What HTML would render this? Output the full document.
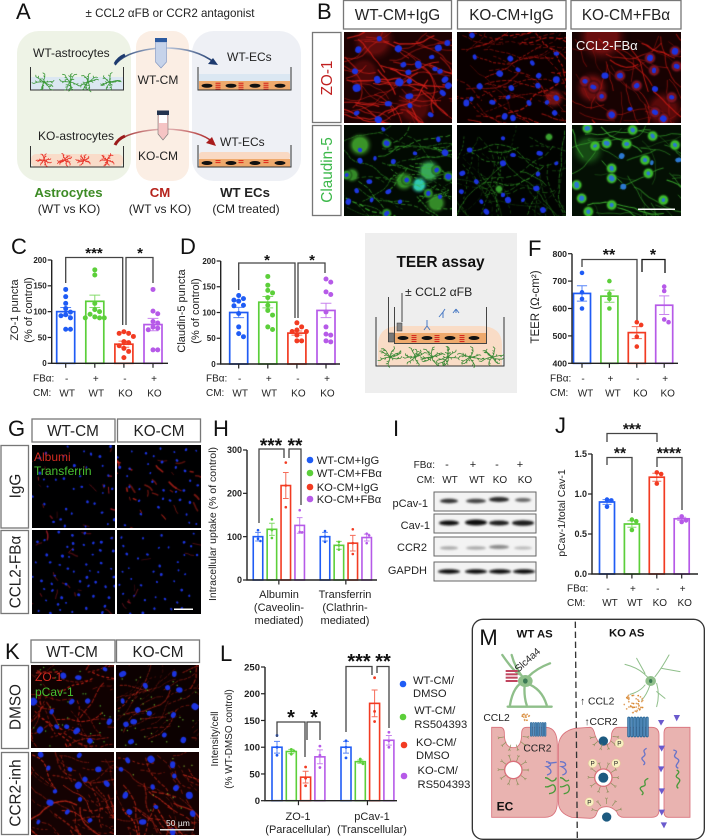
<!DOCTYPE html>
<html lang="en">
<head>
<meta charset="utf-8">
<title>Multi-panel figure</title>
<style>
html,body{margin:0;padding:0;background:#fff;}
#fig{position:relative;width:705px;height:840px;overflow:hidden;background:#fff;font-family:"Liberation Sans",Arial,sans-serif;}
#fig canvas{position:absolute;display:block;}
#ov{position:absolute;left:0;top:0;}
#ov text{font-family:"Liberation Sans",Arial,sans-serif;fill:#222;}
.hdr{fill:#fff;stroke:#777;stroke-width:1.3;}
.let{font-size:22px;fill:#111 !important;}
.h15{font-size:15.3px;text-anchor:middle;}
.a12{font-size:12px;}
.m12{font-size:12px;text-anchor:middle;}
.bold13{font-size:13.2px;font-weight:bold;text-anchor:middle;}
.lab10{font-size:10px;}
.t11{font-size:11px;text-anchor:middle;}
.leg{font-size:11.2px;}
</style>
</head>
<body>
<div id="fig">

<canvas id="b1" width="108" height="91" style="left:344px;top:32px"></canvas>
<canvas id="b2" width="109" height="91" style="left:457px;top:32px"></canvas>
<canvas id="b3" width="109" height="91" style="left:572px;top:32px"></canvas>
<canvas id="b4" width="108" height="91" style="left:344px;top:125px"></canvas>
<canvas id="b5" width="109" height="91" style="left:457px;top:125px"></canvas>
<canvas id="b6" width="109" height="91" style="left:572px;top:125px"></canvas>
<canvas id="g1" width="83" height="83" style="left:32px;top:445px"></canvas>
<canvas id="g2" width="84" height="83" style="left:117px;top:445px"></canvas>
<canvas id="g3" width="83" height="84" style="left:32px;top:530px"></canvas>
<canvas id="g4" width="84" height="84" style="left:117px;top:530px"></canvas>
<canvas id="k1" width="83" height="83" style="left:31px;top:665px"></canvas>
<canvas id="k2" width="83" height="83" style="left:116px;top:665px"></canvas>
<canvas id="k3" width="83" height="83" style="left:31px;top:752px"></canvas>
<canvas id="k4" width="83" height="83" style="left:116px;top:752px"></canvas>

<svg id="ov" width="705" height="840" viewBox="0 0 705 840" xmlns="http://www.w3.org/2000/svg">
<defs>
<filter id="bl" x="-20%" y="-100%" width="140%" height="300%"><feGaussianBlur stdDeviation="1.1"/></filter>
<linearGradient id="arrB" x1="0" x2="1"><stop offset="0" stop-color="#1d3a6e"/><stop offset=".5" stop-color="#c8d2e4"/><stop offset="1" stop-color="#1d3a6e"/></linearGradient>
<linearGradient id="arrR" x1="0" x2="1"><stop offset="0" stop-color="#9a1a1a"/><stop offset=".5" stop-color="#e8c4c4"/><stop offset="1" stop-color="#a81c1c"/></linearGradient>
</defs>

<!-- Panel letters -->
<text class="let" x="16" y="19">A</text>
<text class="let" x="317" y="19">B</text>
<text class="let" x="11" y="254">C</text>
<text class="let" x="180" y="254">D</text>
<text class="let" x="371" y="255">E</text>
<text class="let" x="528" y="256">F</text>
<text class="let" x="8" y="436">G</text>
<text class="let" x="213" y="436">H</text>
<text class="let" x="393" y="436">I</text>
<text class="let" x="555" y="433">J</text>
<text class="let" x="5" y="659">K</text>
<text class="let" x="220" y="661">L</text>

<!-- Panel A -->
<g id="panelA">
<text class="m12" x="170" y="17" style="font-size:11.6px">± CCL2 αFB or CCR2 antagonist</text>
<rect x="17" y="31" width="114" height="150" rx="22" fill="#eef3e6"/>
<rect x="136" y="31" width="53" height="150" rx="16" fill="#fbeee4"/>
<rect x="192" y="31" width="109" height="150" rx="22" fill="#eef0f5"/>
<rect x="31" y="77" width="92" height="13" fill="#dbe7f2"/>
<rect x="31" y="154" width="92" height="13" rx="5" fill="#f9dcc9"/>
<rect x="199" y="74" width="91" height="8" fill="#dbe7f2"/>
<rect x="199" y="81" width="91" height="9" fill="#eea96c"/>
<rect x="199" y="152" width="91" height="8" rx="3" fill="#f9d9c3"/>
<rect x="199" y="159" width="91" height="8" fill="#eea96c"/>
<g id="aNuclei"></g>
<path d="M30.5 67V90H123.5V67" fill="none" stroke="#333" stroke-width="1"/>
<path d="M30.5 146V167H123.5V146" fill="none" stroke="#333" stroke-width="1"/>
<path d="M198 67V90H291V67" fill="none" stroke="#333" stroke-width="1"/>
<path d="M198 145V167H291V145" fill="none" stroke="#333" stroke-width="1"/>
<path d="M115 65Q125 51 160 48Q195 47 215 63" fill="none" stroke="url(#arrB)" stroke-width="1.6"/>
<path d="M115 64Q118 58 125 55" fill="none" stroke="#1d3a6e" stroke-width="3"/>
<path d="M218 65L208 64L213 58Z" fill="#1d3a6e"/>
<path d="M115 144Q125 131 165 129Q200 130 214 143" fill="none" stroke="url(#arrR)" stroke-width="1.6"/>
<path d="M115 145Q118 139 125 136" fill="none" stroke="#9a1a1a" stroke-width="3"/>
<path d="M216 146L206 143L212 137Z" fill="#a81c1c"/>
<path d="M155.500 42H166.500V62L161 68L155.500 62Z" fill="#c6d3ea" stroke="#7d93c0" stroke-width=".6"/>
<rect x="155" y="38" width="12" height="4" fill="#2c5aa0"/>
<path d="M158 115H168V134L163 140L158 134Z" fill="#f5c4c4" stroke="#777" stroke-width=".6"/>
<rect x="157" y="110.500" width="12" height="4.500" fill="#23344f"/>
<rect x="159" y="115" width="8" height="8" fill="#fff"/>
<text class="a12" x="33" y="57">WT-astrocytes</text>
<text class="a12" x="38" y="140">KO-astrocytes</text>
<text class="a12" x="227" y="61">WT-ECs</text>
<text class="a12" x="220" y="146">WT-ECs</text>
<text class="m12" x="158" y="84">WT-CM</text>
<text class="m12" x="158" y="160">KO-CM</text>
<text class="bold13" x="68.500" y="197" style="fill:#3d8b25">Astrocytes</text>
<text class="m12" x="69" y="213">(WT vs KO)</text>
<text class="bold13" x="160" y="197" style="fill:#b5231c">CM</text>
<text class="m12" x="160" y="213">(WT vs KO)</text>
<text class="bold13" x="245" y="197">WT ECs</text>
<text class="m12" x="246" y="213">(CM treated)</text>
</g>

<!-- Panel B labels -->
<rect class="hdr" x="343.500" y="0.500" width="108" height="28.500"/>
<rect class="hdr" x="457.500" y="0.500" width="108.500" height="28.500"/>
<rect class="hdr" x="571" y="0.500" width="110" height="28.500"/>
<text class="h15" x="397.500" y="20">WT-CM+IgG</text>
<text class="h15" x="511.500" y="20">KO-CM+IgG</text>
<text class="h15" x="626" y="20">KO-CM+FBα</text>
<rect class="hdr" x="312.500" y="32.500" width="28.500" height="90"/>
<rect class="hdr" x="312.500" y="125.500" width="28.500" height="90"/>
<text class="h15" transform="translate(332,78) rotate(-90)" style="fill:#c02020">ZO-1</text>
<text class="h15" transform="translate(332,170) rotate(-90)" style="fill:#3cb84a">Claudin-5</text>
<text x="576" y="50" style="font-size:13px;fill:#f4f4f4">CCL2-FBα</text>
<rect x="638" y="208.500" width="37" height="1.500" fill="#fff"/>

<!-- Panel C/D labels -->
<text class="t11" transform="translate(18,310) rotate(-90)">ZO-1 puncta</text>
<text class="t11" transform="translate(32,310) rotate(-90)">(% of control)</text>
<text class="t11" transform="translate(185,311) rotate(-90)">Claudin-5 puncta</text>
<text class="t11" transform="translate(199,311) rotate(-90)">(% of control)</text>
<text class="lab10" x="33" y="381.500">FBα:</text>
<text class="lab10" x="33" y="396">CM:</text>
<text class="lab10" x="206" y="381.500">FBα:</text>
<text class="lab10" x="206" y="396">CM:</text>

<!-- Panel E -->
<g id="panelE">
<rect x="365" y="233" width="152" height="160" fill="#eeeeee"/>
<text x="440.500" y="267" style="font-size:15.400px;font-weight:bold;text-anchor:middle;fill:#111">TEER assay</text>
<text x="405" y="296" style="font-size:12.200px">± CCL2 αFB</text>
<path d="M378 366V345Q378 326 400 326H480Q502 326 502 345V366Z" fill="#f9dcc6"/>
<rect x="395" y="333" width="92" height="10" fill="#eea96c"/>
<g id="eCells"></g>
<path d="M376 317V366H504V317" fill="none" stroke="#333" stroke-width="1"/>
<path d="M388.500 297V342M394.500 307V343.500H486.500V307M402 293V322" fill="none" stroke="#444" stroke-width="1"/>
<rect x="388.500" y="333" width="5" height="9" fill="#777" stroke="#333" stroke-width=".5"/>
<rect x="397" y="323" width="5" height="8" fill="#888" stroke="#333" stroke-width=".5"/>
<path d="M427 320V326M427 326L424 330M427 326L430 330M443 312V318M443 312L439 317M443 312L445 309M456 309V313M456 309L453 313M456 309L459 313" fill="none" stroke="#4a7ac4" stroke-width="1"/>
</g>

<!-- Panel F labels -->
<text class="t11" transform="translate(539,307) rotate(-90)" style="font-size:11.500px">TEER (Ω-cm²)</text>
<text class="lab10" x="550" y="381.500">FBα:</text>
<text class="lab10" x="550" y="396">CM:</text>

<!-- Panel G labels -->
<rect class="hdr" x="32" y="419" width="83" height="23"/>
<rect class="hdr" x="117.500" y="419" width="83" height="23"/>
<text class="h15" x="73" y="436">WT-CM</text>
<text class="h15" x="159" y="436">KO-CM</text>
<rect class="hdr" x="1" y="445.500" width="27.500" height="82.500"/>
<rect class="hdr" x="1" y="530.500" width="27.500" height="83"/>
<text class="h15" transform="translate(20.500,486) rotate(-90)">IgG</text>
<text class="h15" transform="translate(20.500,572) rotate(-90)">CCL2-FBα</text>
<text x="34" y="461" style="font-size:12px;fill:#d02a20">Albumi</text>
<text x="34" y="475" style="font-size:12px;fill:#48c030">Transferrin</text>
<rect x="174" y="608.500" width="19" height="1.500" fill="#fff"/>

<!-- Panel H labels -->
<text class="t11" transform="translate(216,524) rotate(-90)" style="font-size:10.500px">Intracellular uptake (% of control)</text>
<text class="t11" x="279" y="598">Albumin</text>
<text class="t11" x="279" y="611">(Caveolin-</text>
<text class="t11" x="279" y="624">mediated)</text>
<text class="t11" x="345" y="598">Transferrin</text>
<text class="t11" x="345" y="611">(Clathrin-</text>
<text class="t11" x="345" y="624">mediated)</text>
<g>
<circle cx="310" cy="460" r="3.300" fill="#1f5cf5"/>
<circle cx="310" cy="473" r="3.300" fill="#5ccf3a"/>
<circle cx="310" cy="487" r="3.300" fill="#f23b22"/>
<circle cx="310" cy="499" r="3.300" fill="#b65ae8"/>
<text class="leg" x="316.700" y="464">WT-CM+IgG</text>
<text class="leg" x="316.700" y="477">WT-CM+FBα</text>
<text class="leg" x="316.700" y="491">KO-CM+IgG</text>
<text class="leg" x="316.700" y="503">KO-CM+FBα</text>
</g>

<!-- Panel I -->
<g id="panelI">
<text class="lab10" x="435" y="468" text-anchor="end">FBα:</text>
<text class="lab10" x="435" y="483" text-anchor="end">CM:</text>
<text class="t11" x="447" y="468">-</text>
<text class="t11" x="473" y="468">+</text>
<text class="t11" x="497" y="468">-</text>
<text class="t11" x="520" y="468">+</text>
<text class="lab10" x="450" y="483" text-anchor="middle">WT</text>
<text class="lab10" x="477" y="483" text-anchor="middle">WT</text>
<text class="lab10" x="500" y="483" text-anchor="middle">KO</text>
<text class="lab10" x="525" y="483" text-anchor="middle">KO</text>
<text x="428" y="507" text-anchor="end" style="font-size:11px">pCav-1</text>
<text x="430" y="529" text-anchor="end" style="font-size:11px">Cav-1</text>
<text x="427" y="551" text-anchor="end" style="font-size:11px">CCR2</text>
<text x="427" y="574" text-anchor="end" style="font-size:11px">GAPDH</text>
<rect x="434" y="492" width="102" height="19" fill="#f3f3f3" stroke="#666"/>
<rect x="434" y="514" width="102" height="19" fill="#f3f3f3" stroke="#666"/>
<rect x="434" y="537" width="102" height="19" fill="#f3f3f3" stroke="#666"/>
<rect x="434" y="562" width="102" height="19" fill="#f3f3f3" stroke="#666"/>
<g filter="url(#bl)">
<ellipse cx="449" cy="501" rx="9" ry="2.200" fill="#333"/>
<ellipse cx="476" cy="501" rx="10" ry="2.200" fill="#444"/>
<ellipse cx="499" cy="499.500" rx="10" ry="2.500" fill="#2a2a2a"/>
<ellipse cx="523" cy="500" rx="8" ry="2" fill="#666"/>
<ellipse cx="449" cy="523" rx="10" ry="2.500" fill="#111"/>
<ellipse cx="476" cy="522.500" rx="11" ry="3" fill="#111"/>
<ellipse cx="499" cy="523" rx="10" ry="2.500" fill="#1a1a1a"/>
<ellipse cx="523" cy="523" rx="11" ry="2.800" fill="#1a1a1a"/>
<ellipse cx="449" cy="548" rx="9" ry="1.800" fill="#aaa"/>
<ellipse cx="476" cy="548" rx="10" ry="1.800" fill="#aaa"/>
<ellipse cx="499" cy="547" rx="10" ry="2" fill="#888"/>
<ellipse cx="523" cy="548" rx="9" ry="1.600" fill="#bbb"/>
<ellipse cx="449" cy="571.500" rx="11" ry="2.200" fill="#0a0a0a"/>
<ellipse cx="476" cy="571.500" rx="11" ry="2.200" fill="#0a0a0a"/>
<ellipse cx="500" cy="571.500" rx="11" ry="2.200" fill="#0a0a0a"/>
<ellipse cx="524" cy="571.500" rx="11" ry="2.200" fill="#0a0a0a"/>
</g>
</g>

<!-- Panel J labels -->
<text class="t11" transform="translate(565,513) rotate(-90)" style="font-size:10.500px">pCav-1/total Cav-1</text>
<text class="lab10" x="567" y="591.500">FBα:</text>
<text class="lab10" x="567" y="606">CM:</text>

<!-- Panel K labels -->
<rect class="hdr" x="31" y="640" width="84" height="22.500"/>
<rect class="hdr" x="116.500" y="640" width="83" height="22.500"/>
<text class="h15" x="72" y="657">WT-CM</text>
<text class="h15" x="158" y="657">KO-CM</text>
<rect class="hdr" x="1.500" y="665.500" width="27" height="83"/>
<rect class="hdr" x="1.500" y="752.500" width="27" height="82"/>
<text class="h15" transform="translate(20.500,707) rotate(-90)">DMSO</text>
<text class="h15" transform="translate(20.500,793) rotate(-90)">CCR2-inh</text>
<text x="35" y="681" style="font-size:12px;fill:#d02a20">ZO-1</text>
<text x="35" y="696" style="font-size:12px;fill:#48c030">pCav-1</text>
<text x="166" y="826" style="font-size:8.500px;fill:#eee">50 µm</text>
<rect x="160" y="829" width="34" height="1.500" fill="#ddd"/>

<!-- Panel L labels -->
<text class="t11" transform="translate(218,739) rotate(-90)" style="font-size:10px">Intensity/cell</text>
<text class="t11" transform="translate(232,739) rotate(-90)" style="font-size:10px">(% WT-DMSO control)</text>
<text class="t11" x="298" y="820">ZO-1</text>
<text class="t11" x="298" y="833">(Paracellular)</text>
<text class="t11" x="372" y="820">pCav-1</text>
<text class="t11" x="372" y="833">(Transcellular)</text>
<g>
<circle cx="403" cy="684" r="3.300" fill="#1f5cf5"/>
<circle cx="403" cy="717" r="3.300" fill="#5ccf3a"/>
<circle cx="404" cy="745" r="3.300" fill="#f23b22"/>
<circle cx="404" cy="776" r="3.300" fill="#b65ae8"/>
<text class="leg" x="413" y="684">WT-CM/</text>
<text class="leg" x="413" y="697">DMSO</text>
<text class="leg" x="414.300" y="714">WT-CM/</text>
<text class="leg" x="414.300" y="728">RS504393</text>
<text class="leg" x="416" y="746">KO-CM/</text>
<text class="leg" x="416" y="759">DMSO</text>
<text class="leg" x="417.500" y="774">KO-CM/</text>
<text class="leg" x="417.500" y="788">RS504393</text>
</g>

<!-- Panel M, drawn in 3x coordinates -->
<g id="panelM" transform="translate(465,605) scale(0.33333)">
<rect x="22" y="43" width="696" height="660" rx="32" fill="#fff" stroke="#333" stroke-width="4"/>
<text x="43" y="120" style="font-size:66px;fill:#111">M</text>
<text x="155" y="98" style="font-size:34px;font-weight:bold;fill:#111">WT AS</text>
<text x="432" y="94" style="font-size:34px;font-weight:bold;fill:#111">KO AS</text>
<path d="M80 367L105 367Q118 367 118 385Q118 428 145 428Q170 428 170 385Q170 367 185 367L245 367Q277 370 277 420L277 590Q277 637 240 637L80 637Z" fill="#e9b3b0" stroke="#d9707a" stroke-width="2.500"/>
<path d="M330 370L375 367Q385 367 390 390Q400 420 420 420Q440 420 440 385Q445 367 460 367L560 367Q582 367 582 390L582 615Q582 637 560 637L475 637Q460 637 455 620Q440 605 425 605Q400 605 395 625Q390 640 375 640L320 637Q280 625 280 590L280 420Q285 380 330 370Z" fill="#e9b3b0" stroke="#d9707a" stroke-width="2.500"/>
<path d="M675 367L610 367Q597 367 597 385L597 620Q597 637 610 637L675 637Z" fill="#e9b3b0" stroke="#d9707a" stroke-width="2.500"/>
<circle cx="145" cy="495" r="26" fill="#fff" stroke="#d9707a" stroke-width="4"/>
<circle cx="415" cy="518" r="26" fill="#fff" stroke="#d9707a" stroke-width="4"/>
<circle cx="415" cy="518" r="15" fill="#1c5a80"/>
<circle cx="415" cy="408" r="14" fill="#1c5a80"/>
<circle cx="425" cy="636" r="14" fill="#1c5a80"/>
<g id="mSpikes"></g>
<g id="mRec"></g>
<path d="M243 470C260 470 262 485 245 485C262 495 262 505 246 510M250 475L275 472M285 470C305 470 308 485 290 485C308 495 308 505 292 510" fill="none" stroke="#6a75c8" stroke-width="4"/>
<path d="M240 518C256 518 254 535 270 525Q275 520 272 518M240 545C256 550 262 530 270 545C275 560 262 565 252 566M285 518C300 518 298 535 312 525M285 545C300 550 306 530 312 545C316 560 306 565 296 566" fill="none" stroke="#4a9a3a" stroke-width="4"/>
<path d="M545 430C525 440 550 445 535 455C520 465 550 470 535 480" fill="none" stroke="#6a75c8" stroke-width="4"/>
<path d="M550 520C525 530 555 540 530 545C515 555 545 560 530 570" fill="none" stroke="#4a9a3a" stroke-width="4"/>
<path d="M625 435C650 440 615 450 635 460C655 470 620 480 640 490" fill="none" stroke="#6a75c8" stroke-width="4"/>
<path d="M635 495C655 505 620 510 640 520C655 530 625 540 640 550" fill="none" stroke="#4a9a3a" stroke-width="4"/>
<g fill="#6a5acd">
<path d="M579 345L598 345L588 362Z"/>
<path d="M626 330L645 330L635 349Z"/>
<path d="M580 422L600 422L590 440Z"/>
<path d="M579 484L598 484L588 502Z"/>
<path d="M581 550L600 550L590 568Z"/>
<path d="M581 614L600 614L590 632Z"/>
<path d="M587 652L606 652L597 670Z"/>
</g>
<g fill="none" stroke="#8fbf8a" stroke-width="7" stroke-linecap="round">
<path d="M180 228Q145 240 135 300M180 228Q175 270 185 300M185 235Q230 250 245 300M180 225Q150 190 140 150M190 215Q215 190 255 175M128 305H260M165 208Q150 205 112 150"/>
</g>
<ellipse cx="181" cy="228" rx="22" ry="18" fill="#8fbf8a"/>
<ellipse cx="181" cy="228" rx="7" ry="8" fill="#3c7a55"/>
<g fill="#c0455f">
<rect x="122" y="195" width="36" height="6"/>
<rect x="122" y="205" width="36" height="6"/>
<rect x="122" y="215" width="36" height="6"/>
<rect x="122" y="225" width="36" height="6"/>
</g>
<g fill="none" stroke="#8fbf8a" stroke-width="3" stroke-linecap="round">
<path d="M557 228Q530 190 480 178M540 205L515 160M570 215Q590 190 612 150M590 190L645 200M575 235Q585 270 575 305M575 260L600 280M540 240Q525 260 495 268M555 240Q545 270 530 285"/>
</g>
<ellipse cx="557" cy="228" rx="16" ry="15" fill="#8fbf8a"/>
<ellipse cx="557" cy="228" rx="5" ry="6" fill="#3c7a55"/>
<g id="mDots"></g>
<g>
<circle cx="463" cy="415" r="13" fill="#f8efc0" stroke="#d8c888"/>
<circle cx="383" cy="475" r="13" fill="#f8efc0" stroke="#d8c888"/>
<circle cx="453" cy="475" r="13" fill="#f8efc0" stroke="#d8c888"/>
<circle cx="373" cy="591" r="13" fill="#f8efc0" stroke="#d8c888"/>
<text x="463" y="422" text-anchor="middle" style="font-size:19px">P</text>
<text x="383" y="482" text-anchor="middle" style="font-size:19px">P</text>
<text x="453" y="482" text-anchor="middle" style="font-size:19px">P</text>
<text x="373" y="598" text-anchor="middle" style="font-size:19px">P</text>
</g>
<path d="M331 50L337 705" fill="none" stroke="#333" stroke-width="4" stroke-dasharray="19 11"/>
<text transform="translate(160,203) rotate(-42)" style="font-size:30px">Slc4a4</text>
<text x="55" y="348" style="font-size:31px">CCL2</text>
<text x="175" y="440" style="font-size:31px">CCR2</text>
<text x="345" y="298" style="font-size:31px">↑ CCL2</text>
<text x="358" y="360" style="font-size:31px">↑CCR2</text>
<text x="95" y="617" style="font-size:36px;font-weight:bold;fill:#111">EC</text>
</g>

<g id="charts"></g>
<g id="astros"></g>
</svg>
</div>

<script>
/* ===== Chart data ===== */
const fbSigns = ['-', '+', '-', '+'];
const cmGroups = ['WT', 'WT', 'KO', 'KO'];

const zo1Ticks = [0, 50, 100, 150, 200];
const zo1Means = [100, 120, 37, 75];
const zo1Errors = [8, 12, 6, 12];
const zo1Points = [
  [143, 129, 116, 106, 99, 94, 92, 88, 66, 66],
  [181, 171, 116, 104, 100, 95, 90, 88, 88, 88],
  [61, 58, 58, 52, 42, 40, 34, 29, 23, 11],
  [143, 101, 96, 81, 78, 70, 68, 65, 26, 26]
];

const claudinTicks = [0, 50, 100, 150, 200];
const claudinMeans = [100, 120, 60, 104];
const claudinErrors = [10, 11, 4, 14];
const claudinPoints = [
  [133, 127, 124, 122, 114, 113, 98, 72, 59, 53],
  [170, 153, 143, 138, 129, 114, 104, 95, 72, 67],
  [80, 72, 66, 63, 63, 56, 45, 45],
  [165, 159, 140, 135, 101, 72, 58, 56, 45, 43]
];

const teerTicks = [400, 500, 600, 700, 800];
const teerMeans = [655, 645, 512, 612];
const teerErrors = [28, 22, 22, 34];
const teerPoints = [
  [730, 659, 635, 600],
  [700, 654, 635, 600],
  [550, 540, 497, 461],
  [680, 664, 560, 550]
];

const uptakeTicks = [0, 100, 200, 300];
const uptakeGroups = ['Albumin', 'Transferrin'];
const uptakeMeans = [[100, 117, 218, 126], [100, 80, 85, 98]];
const uptakeErrors = [[10, 14, 30, 18], [10, 9, 18, 8]];
const uptakePoints = [
  [[115, 95, 90], [140, 115, 97], [271, 218, 168], [161, 111, 110]],
  [[113, 100, 88], [88, 80, 70], [117, 85, 60], [107, 103, 85]]
];

const ratioTicks = [0, 0.5, 1, 1.5];
const ratioTickLabels = ['0.0', '0.5', '1.0', '1.5'];
const ratioMeans = [0.9, 0.625, 1.21, 0.69];
const ratioErrors = [0.03, 0.04, 0.05, 0.02];
const ratioPoints = [
  [0.93, 0.92, 0.84],
  [0.68, 0.66, 0.55],
  [1.27, 1.25, 1.13],
  [0.72, 0.67, 0.65]
];

const intensityTicks = [0, 50, 100, 150, 200, 250];
const intensityGroups = ['ZO-1', 'pCav-1'];
const intensityMeans = [[100, 92, 44, 82], [100, 73, 182, 113]];
const intensityErrors = [[11, 4, 11, 13], [11, 3, 25, 9]];
const intensityPoints = [
  [[122, 100, 85], [96, 93, 87], [63, 42, 28], [102, 85, 62]],
  [[112, 100, 80], [78, 73, 69], [230, 167, 148], [128, 112, 100]]
];

const seriesColors = ['#1f5cf5', '#5ccf3a', '#f23b22', '#b65ae8'];

/* ===== Helpers ===== */
const NS = 'http://www.w3.org/2000/svg';
function mk(tag, parent) {
  const e = document.createElementNS(NS, tag);
  parent.appendChild(e);
  return e;
}
function attrs(e, o) {
  for (const k in o) e.setAttribute(k, o[k]);
  return e;
}
function seeded(a) {
  return function () {
    a |= 0; a = a + 0x6D2B79F5 | 0;
    let t = Math.imul(a ^ a >>> 15, 1 | a);
    t = t + Math.imul(t ^ t >>> 7, 61 | t) ^ t;
    return ((t ^ t >>> 14) >>> 0) / 4294967296;
  };
}
function swarm(vals, yScale, cx, pr) {
  const placed = [];
  const d = pr * 1.9;
  [...vals].sort((a, b) => b - a).forEach(v => {
    const y = yScale(v);
    const offs = [0, d, -d, 2 * d, -2 * d, 3 * d, -3 * d];
    let pick = 0;
    for (const o of offs) {
      if (placed.every(p => Math.hypot(p.x - (cx + o), p.y - y) >= d)) { pick = o; break; }
    }
    placed.push({ x: cx + pick, y: y });
  });
  return placed;
}

const chartsRoot = document.getElementById('charts');

function drawAxes(g, c) {
  const yS = c.yScale;
  const axis = mk('path', g);
  
  
  attrs(axis, { d: `M${c.x0} ${c.yTopPx}V${c.yBotPx}H${c.x1}`, fill: 'none', stroke: '#222', 'stroke-width': 1.4 });
  c.ticks.forEach((t, i) => {
    const tick = mk('line', g);
    
    
    attrs(tick, { x1: c.x0 - 4, x2: c.x0, y1: yS(t), y2: yS(t), stroke: '#222', 'stroke-width': 1.2 });
    const lab = mk('text', g);
    
    
    attrs(lab, { x: c.x0 - 5, y: yS(t) + c.tickFont * 0.36, 'text-anchor': 'end' });
    lab.style.fontSize = c.tickFont + 'px';
    lab.style.fontWeight = 'bold';
    lab.textContent = c.tickLabels ? c.tickLabels[i] : String(t);
  });
}

function drawSeriesBar(g, x, w, mean, err, pts, color, c) {
  const yS = c.yScale;
  const bar = mk('rect', g);
  
  
  attrs(bar, { x: x - w / 2, y: yS(mean), width: w, height: c.yBotPx - yS(mean), fill: '#fff', stroke: color, 'stroke-width': c.barStroke });
  const eb = mk('path', g);
  
  
  const cap = w * 0.3;
  attrs(eb, {
    d: `M${x - cap} ${yS(mean + err)}H${x + cap}M${x} ${yS(mean + err)}V${yS(mean - err)}M${x - cap} ${yS(mean - err)}H${x + cap}`,
    fill: 'none', stroke: color, 'stroke-width': 1, opacity: 0.75
  });
  swarm(pts, yS, x, c.pr).forEach(p => {
    const dot = mk('circle', g);
    
    
    attrs(dot, { cx: p.x, cy: p.y, r: c.pr, fill: color });
  });
}

function drawBrackets(g, list) {
  list.forEach(b => {
    const br = mk('path', g);
    
    
    attrs(br, { d: `M${b[0]} ${b[2]}V${b[1]}H${b[3]}V${b[4]}`, fill: 'none', stroke: b[5] || '#444', 'stroke-width': 1.3 });
  });
}
function drawStars(g, list, size) {
  list.forEach(s => {
    const st = mk('text', g);
    
    
    attrs(st, { x: s[0], y: s[1], 'text-anchor': 'middle' });
    st.style.fontSize = size + 'px';
    st.style.fontWeight = 'bold';
    st.style.fill = '#111';
    st.textContent = s[2];
  });
}

function drawSimple(c) {
  const g = mk('g', chartsRoot);
  
  
  c.yScale = v => c.yBotPx - (v - c.min) / (c.max - c.min) * (c.yBotPx - c.yTopPx);
  c.means.forEach((m, i) => {
    drawSeriesBar(g, c.xAt(i), c.barW, m, c.errors[i], c.points[i], seriesColors[i], c);
  });
  drawAxes(g, c);
  c.means.forEach((m, i) => {
    const xt = c.xAt(i);
    const tk = mk('line', g);
    
    
    attrs(tk, { x1: xt, x2: xt, y1: c.yBotPx, y2: c.yBotPx + 4.5, stroke: '#222', 'stroke-width': 1.2 });
    const s = mk('text', g);
    
    
    attrs(s, { x: xt + 1, y: c.rowY[0], 'text-anchor': 'middle' });
    s.style.fontSize = '10px';
    s.textContent = fbSigns[i];
    const lb = mk('text', g);
    
    
    attrs(lb, { x: xt + c.cmShift, y: c.rowY[1], 'text-anchor': 'middle' });
    lb.style.fontSize = '10px';
    lb.textContent = cmGroups[i];
  });
  drawBrackets(g, c.brackets);
  drawStars(g, c.stars, c.starSize);
}

function drawGrouped(c) {
  const g = mk('g', chartsRoot);
  
  
  c.yScale = v => c.yBotPx - (v - c.min) / (c.max - c.min) * (c.yBotPx - c.yTopPx);
  c.means.forEach((grp, gi) => {
    grp.forEach((m, i) => {
      drawSeriesBar(g, c.xAt(gi, i), c.barW, m, c.errors[gi][i], c.points[gi][i], seriesColors[i], c);
    });
  });
  drawAxes(g, c);
  c.groups.forEach((name, gi) => {
    const xt = (c.xAt(gi, 1) + c.xAt(gi, 2)) / 2;
    const tk = mk('line', g);
    
    
    attrs(tk, { x1: xt, x2: xt, y1: c.yBotPx, y2: c.yBotPx + 4.5, stroke: '#222', 'stroke-width': 1.2 });
  });
  drawBrackets(g, c.brackets);
  drawStars(g, c.stars, c.starSize);
}

/* ===== Charts ===== */
drawSimple({
  name: 'zo1-puncta-chart', x0: 51.7, x1: 168, yTopPx: 260, yBotPx: 363.3, min: 0, max: 200,
  ticks: zo1Ticks, tickFont: 8, means: zo1Means, errors: zo1Errors, points: zo1Points,
  xAt: i => 65.7 + 29.1 * i, barW: 18, barStroke: 1.7, pr: 2.5, rowY: [382, 396.5], cmShift: 1.5,
  brackets: [[65.7, 257.5, 283, 122.7, 325], [126, 257.5, 325, 153, 283]],
  stars: [[94, 258, '***'], [140, 258, '*']], starSize: 15
});
drawSimple({
  name: 'claudin5-puncta-chart', x0: 220.7, x1: 340, yTopPx: 261, yBotPx: 364, min: 0, max: 200,
  ticks: claudinTicks, tickFont: 8, means: claudinMeans, errors: claudinErrors, points: claudinPoints,
  xAt: i => 238.7 + 29.1 * i, barW: 18, barStroke: 1.7, pr: 2.5, rowY: [382, 396.5], cmShift: 1.5,
  brackets: [[238.7, 263, 290, 295, 318], [298, 263, 318, 325, 273]],
  stars: [[267, 265, '*'], [312, 265, '*']], starSize: 15
});
drawSimple({
  name: 'teer-chart', x0: 572, x1: 678, yTopPx: 253.7, yBotPx: 363.3, min: 400, max: 800,
  ticks: teerTicks, tickFont: 8.7, means: teerMeans, errors: teerErrors, points: teerPoints,
  xAt: i => 582 + 27.4 * i, barW: 17, barStroke: 1.7, pr: 2.3, rowY: [382, 396.5], cmShift: 3.5,
  brackets: [[582, 259.5, 267, 637, 320], [642, 259.5, 272, 665, 273, '#111']],
  stars: [[609, 260, '**'], [653, 260, '*']], starSize: 16
});
drawGrouped({
  name: 'intracellular-uptake-chart', x0: 247, x1: 377, yTopPx: 450, yBotPx: 580, min: 0, max: 300,
  ticks: uptakeTicks, tickFont: 9, groups: uptakeGroups, means: uptakeMeans, errors: uptakeErrors, points: uptakePoints,
  xAt: (g, i) => 258 + g * 67 + i * 13.9, barW: 9.5, barStroke: 1.6, pr: 1.3,
  brackets: [[259, 449, 523, 284, 458], [289, 449, 458, 301, 505]],
  stars: [[271, 452, '***'], [295, 452, '**']], starSize: 19
});
drawSimple({
  name: 'pcav1-ratio-chart', x0: 592, x1: 698, yTopPx: 454, yBotPx: 574, min: 0, max: 1.5,
  ticks: ratioTicks, tickLabels: ratioTickLabels, tickFont: 9, means: ratioMeans, errors: ratioErrors, points: ratioPoints,
  xAt: i => 607 + 24.9 * i, barW: 15, barStroke: 1.7, pr: 2.3, rowY: [592, 606], cmShift: 3,
  brackets: [[607, 433.500, 442, 657, 442], [607, 457.500, 465, 632, 513], [657, 457.500, 467, 682, 510]],
  stars: [[632, 434.500, '***'], [620, 458.500, '**'], [669, 458.500, '****']], starSize: 15.700
});
drawGrouped({
  name: 'intensity-per-cell-chart', x0: 265, x1: 397, yTopPx: 667, yBotPx: 800.7, min: 0, max: 250,
  ticks: intensityTicks, tickFont: 9.5, groups: intensityGroups, means: intensityMeans, errors: intensityErrors, points: intensityPoints,
  xAt: (g, i) => 277 + g * 69 + i * 14.3, barW: 10, barStroke: 1.6, pr: 1.4,
  brackets: [[277, 722, 737, 305, 757], [307, 722, 740, 320, 740], [346, 666.500, 732, 372, 675], [377, 666.500, 673, 389, 728]],
  stars: [[291, 724, '*'], [314, 724, '*'], [359, 668, '***'], [383, 668, '**']], starSize: 20
});

/* ===== Illustration helpers ===== */
const astroRoot = document.getElementById('astros');
function astro(cx, cy, R, color, seed, lw) {
  const r = seeded(seed);
  let d = '';
  const n = 8;
  for (let i = 0; i < n; i++) {
    const a = i / n * 6.283 + r() * 0.5;
    let x = cx, y = cy, ang = a;
    d += `M${x.toFixed(1)} ${y.toFixed(1)}`;
    const segs = 3;
    for (let s = 0; s < segs; s++) {
      ang += (r() - 0.5) * 0.9;
      const l = R / segs * (0.8 + r() * 0.5);
      x += Math.cos(ang) * l;
      y += Math.sin(ang) * l * 0.8;
      d += `L${x.toFixed(1)} ${y.toFixed(1)}`;
      const bA = ang + (r() > 0.5 ? 0.9 : -0.9);
      d += `L${(x + Math.cos(bA) * l * 0.6).toFixed(1)} ${(y + Math.sin(bA) * l * 0.5).toFixed(1)}M${x.toFixed(1)} ${y.toFixed(1)}`;
    }
  }
  const p = mk('path', astroRoot);
  
  
  attrs(p, { d: d, fill: 'none', stroke: color, 'stroke-width': lw, 'stroke-linecap': 'round' });
  const b = mk('circle', astroRoot);
  
  
  attrs(b, { cx: cx, cy: cy, r: R * 0.14, fill: color });
}
[44, 70, 88, 110].forEach((x, i) => astro(x, 82, 9.5, '#3f9a3c', 10 + i, 0.8));
[44, 65, 84, 107].forEach((x, i) => astro(x, 160, 6.5, '#e8352a', 30 + i, 0.8));
[390, 415, 432, 448, 470, 492].forEach((x, i) => astro(x, 357, 10.5, '#3c8a38', 50 + i, 0.8));

function ecRow(parent, xs, jx, y, junction, h) {
  xs.forEach(x => {
    const e = mk('ellipse', parent);
    
    
    attrs(e, { cx: x, cy: y, rx: 5.5, ry: 2, fill: '#111' });
  });
  jx.forEach(x => {
    for (let k = 0; k < h; k++) {
      const j = mk('rect', parent);
      
      
      attrs(j, { x: x - 2.5, y: y - 3 + k * 2, width: 5, height: 1.1, fill: junction });
    }
  });
}
const aN = document.getElementById('aNuclei');
ecRow(aN, [207, 231, 255, 280], [218, 241, 266], 85.7, '#d62a20', 4);
ecRow(aN, [207, 231, 255, 280], [218, 241, 266], 163, '#e0301f', 2);
ecRow(document.getElementById('eCells'), [403, 427, 450, 474], [414, 437, 462], 338, '#d62a20', 4);

const mSp = document.getElementById('mSpikes');
function spikes(cx, cy, R, from, to, n) {
  for (let i = 0; i < n; i++) {
    const a = from + (to - from) * i / (n - 1);
    const p = mk('path', mSp);
    
    
    const x1 = cx + Math.cos(a) * R, y1 = cy + Math.sin(a) * R;
    const x2 = cx + Math.cos(a) * (R + 14), y2 = cy + Math.sin(a) * (R + 14);
    const bx = Math.cos(a + 0.6) * 6, by = Math.sin(a + 0.6) * 6;
    const cxx = Math.cos(a - 0.6) * 6, cyy = Math.sin(a - 0.6) * 6;
    attrs(p, { d: `M${x1} ${y1}L${x2} ${y2}L${x2 + bx} ${y2 + by}M${x2} ${y2}L${x2 + cxx} ${y2 + cyy}`, fill: 'none', stroke: '#8a8f5a', 'stroke-width': 2 });
  }
}
spikes(145, 495, 28, 0, 5.7, 10);
spikes(415, 518, 28, 0, 5.7, 10);
spikes(145, 392, 28, 0.1, 3.0, 6);
spikes(418, 392, 25, 0.1, 3.0, 6);
spikes(425, 625, 28, 3.4, 6.0, 5);

const mRec = document.getElementById('mRec');
function receptor(x0, y0, h, w, n, sw) {
  for (let i = 0; i < n; i++) {
    const r = mk('rect', mRec);
    
    
    attrs(r, { x: x0 + i * w, y: y0, width: w * 0.72, height: h, rx: w * 0.36, fill: '#5a90bf', stroke: '#1f5f90', 'stroke-width': sw });
  }
}
receptor(196, 352, 42, 7, 7, 1.6);
receptor(488, 336, 60, 9.2, 7, 2.2);

const mDots = document.getElementById('mDots');
function particles(cx, cy, R, n, seed) {
  const r = seeded(seed);
  for (let i = 0; i < n; i++) {
    const a = r() * 6.283, q = Math.sqrt(r()) * R;
    const c = mk('circle', mDots);
    
    
    attrs(c, { cx: cx + Math.cos(a) * q, cy: cy + Math.sin(a) * q * 0.9, r: 2.6, fill: i % 3 ? '#e0a060' : '#d88830' });
  }
}
particles(182, 336, 14, 14, 71);
particles(505, 296, 32, 44, 72);

/* ===== Micrographs (decorative fluorescence textures) ===== */
const nucB1 = [[55,150],[118,117],[175,147],[295,145],[322,130],[190,195],[235,195],[275,172],[205,218],[300,215],[112,240],[178,248],[208,245],[315,240],[50,265],[325,258],[308,280],[208,290],[145,312],[50,340],[210,318],[272,345],[115,360],[285,208],[45,215]];
const nucB2 = [[397,107],[405,172],[512,177],[650,162],[578,190],[480,222],[535,210],[597,228],[650,240],[420,260],[515,265],[595,258],[505,293],[395,298],[568,310],[622,308],[650,295],[458,308],[495,350],[380,310],[645,340],[520,355]];
const nucB3 = [[1005,155],[930,175],[942,212],[840,228],[795,228],[735,245],[760,262],[890,258],[945,268],[785,290],[995,293],[870,328],[815,345],[970,357],[945,338],[1010,200]];
const nucB4 = [[130,388],[60,450],[140,430],[295,418],[315,458],[60,482],[105,475],[160,485],[225,460],[20,525],[88,545],[145,575],[200,540],[290,510],[265,580],[50,572],[95,600],[180,605],[25,605],[140,640],[325,530],[300,590]];
const nucB5 = [[490,415],[390,450],[600,460],[650,490],[490,490],[520,465],[595,522],[410,545],[368,520],[590,565],[490,585],[505,600],[425,605],[550,600],[610,630],[365,575],[440,635]];
const nucB6 = [[742,385],[878,390],[938,408],[1005,435],[765,438],[800,430],[860,432],[845,468],[935,488],[915,480],[815,505],[925,520],[710,555],[815,535],[850,560],[970,600],[725,595],[815,615],[745,635],[1015,480]];
const nucK1 = [[315,193],[235,218],[190,212],[100,290],[155,320],[263,288],[215,290],[328,350],[170,365],[120,375],[230,378],[270,408],[200,365]];
const nucK2 = [[370,207],[525,207],[505,248],[438,242],[540,255],[587,305],[370,288],[415,315],[450,325],[522,330],[380,358],[403,350],[552,405],[495,390],[395,410]];
const nucK3 = [[122,448],[238,450],[145,488],[295,492],[210,492],[255,522],[165,558],[150,592],[240,582],[202,620],[270,645],[115,650],[320,535],[235,540]];
const nucK4 = [[385,465],[455,462],[520,478],[365,492],[570,570],[525,512],[460,545],[378,570],[530,548],[470,605],[390,620],[520,680],[580,625],[430,650]];

function micro(id, o) {
  const c = document.getElementById(id);
  const x = c.getContext('2d');
  const W = c.width, H = c.height;
  const r = seeded(o.seed);
  const step = o.step || 6;
  x.fillStyle = o.bg;
  x.fillRect(0, 0, W, H);
  (o.blobs || []).forEach(b => {
    const gr = x.createRadialGradient(b[0], b[1], 0, b[0], b[1], b[2]);
    gr.addColorStop(0, b[3]);
    gr.addColorStop(0.5, b[3]);
    gr.addColorStop(1, 'rgba(0,0,0,0)');
    x.fillStyle = gr;
    x.fillRect(b[0] - b[2], b[1] - b[2], b[2] * 2, b[2] * 2);
  });
  x.lineCap = 'round';
  for (let i = 0; i < o.lines; i++) {
    let px = r() * W * 1.2 - W * 0.1, py = r() * H;
    let a = o.angle + (r() - 0.5) * o.spread;
    x.beginPath();
    x.moveTo(px, py);
    const n = (o.minSeg === undefined ? 4 : o.minSeg) + Math.floor(r() * (o.len || 8));
    for (let s = 0; s < n; s++) {
      a += (r() - 0.5) * 0.8;
      px += Math.cos(a) * step;
      py += Math.sin(a) * step;
      x.lineTo(px, py);
    }
    x.strokeStyle = o.line;
    x.globalAlpha = 0.4 + r() * 0.5;
    x.lineWidth = o.lw * (0.6 + r() * 0.9);
    if (o.dash) x.setLineDash([1.5 + r() * 3, 1 + r() * 2.5]); else x.setLineDash([]);
    x.stroke();
  }
  x.setLineDash([]);
  x.globalAlpha = 1;
  if (o.accent) {
    for (let i = 0; i < o.accent; i++) {
      x.fillStyle = o.accentColor;
      x.fillRect(r() * W, r() * H, 1.2, 1.2);
    }
  }
  const placed = [];
  if (o.nucZoom) {
    o.nucZoom.forEach(p => placed.push([(p[0] - o.zx) / 3, (p[1] - o.zy) / 3]));
  } else {
    let guard = 0;
    while (placed.length < o.nuclei && guard < 800) {
      guard++;
      const nx = r() * W, ny = r() * H;
      if (placed.some(p => Math.hypot(p[0] - nx, p[1] - ny) < o.gap)) continue;
      placed.push([nx, ny]);
    }
  }
  placed.forEach(p => {
    const nx = p[0], ny = p[1];
    if (o.halo && r() < o.haloP) {
      const hr = o.nr * (o.haloR || 2.4);
      const gr = x.createRadialGradient(nx, ny, 0, nx, ny, hr);
      gr.addColorStop(0, o.halo);
      gr.addColorStop(0.6, o.halo);
      gr.addColorStop(1, 'rgba(0,0,0,0)');
      x.fillStyle = gr;
      x.fillRect(nx - hr, ny - hr, hr * 2, hr * 2);
    }
    const rx = o.nr * (0.8 + r() * 0.5);
    x.fillStyle = o.nuc || '#1c34e0';
    x.beginPath();
    x.ellipse(nx, ny, rx, rx * (0.7 + r() * 0.3), r() * 3.14, 0, 6.3);
    x.fill();
  });
}
micro('b1', { seed: 3, bg: '#1e0202', line: '#d8201a', lines: 72, angle: 0.25, spread: 0.9, lw: 1, len: 8, nucZoom: nucB1, zx: 12, zy: 97, nr: 3.2, blobs: [[30, 8, 26, '#5e0c0c'], [70, 75, 24, '#4c0808'], [20, 40, 20, '#4a0808']] });
micro('b2', { seed: 8, bg: '#0a0000', line: '#cc1a14', lines: 60, angle: 0.1, spread: 1.2, lw: 0.9, dash: true, len: 9, nucZoom: nucB2, zx: 352, zy: 97, nr: 2.8, blobs: [[97, 66, 12, '#6e1212']] });
micro('b3', { seed: 12, bg: '#180202', line: '#cc1a14', lines: 46, angle: 0.9, spread: 1.8, lw: 0.85, len: 9, nucZoom: nucB3, zx: 696, zy: 97, nr: 2.8, halo: '#7a1420', haloP: .75, haloR: 2.6, blobs: [[30, 5, 30, '#6a0e0e'], [92, 78, 24, '#5a0a0a'], [20, 56, 20, '#6a0e0e'], [22, 55, 7, '#d8306a']] });
micro('b4', { seed: 21, bg: '#020a02', line: '#3cb030', lines: 52, angle: 0.05, spread: 0.9, lw: 0.9, dash: true, len: 9, nucZoom: nucB4, zx: 12, zy: 375, nr: 2.6, nuc: '#1e38e0', halo: '#2c8a26', haloP: .3, blobs: [[16, 20, 14, '#3a9428'], [85, 46, 14, '#38a858'], [75, 60, 10, '#30c8b0'], [60, 56, 12, '#348a28'], [92, 78, 12, '#348a28'], [8, 50, 9, '#348a28']] });
micro('b5', { seed: 25, bg: '#010301', line: '#2f9424', lines: 50, angle: 1.0, spread: 2.4, lw: 0.65, dash: true, len: 11, nucZoom: nucB5, zx: 352, zy: 375, nr: 2.6, blobs: [[92, 12, 5, '#3aa030'], [42, 64, 5, '#3aa030']] });
micro('b6', { seed: 29, bg: '#041004', line: '#3cb030', lines: 38, angle: 0.5, spread: 1.8, lw: 0.8, len: 11, nucZoom: nucB6, zx: 696, zy: 375, nr: 2.5, nuc: '#2c78d0', halo: '#3cb82e', haloP: .8, haloR: 2.7, blobs: [[16, 25, 20, '#164a14']] });
micro('g1', { seed: 41, bg: '#000001', line: '#a81c28', lines: 18, angle: 0.9, spread: 2.4, lw: 1, step: 3, minSeg: 1, len: 3, nuclei: 36, gap: 7, nr: 1.25 });
micro('g2', { seed: 42, bg: '#000001', line: '#cc261e', lines: 30, angle: 0.6, spread: 1.2, lw: 1.3, step: 3, minSeg: 1, len: 3, nuclei: 36, gap: 7, nr: 1.25 });
micro('g3', { seed: 43, bg: '#000001', line: '#a81c28', lines: 16, angle: 0.4, spread: 2.4, lw: 1, step: 3, minSeg: 1, len: 3, nuclei: 56, gap: 5.5, nr: 1.25 });
micro('g4', { seed: 44, bg: '#000001', line: '#8e1a28', lines: 10, angle: 1.1, spread: 2.4, lw: 0.8, step: 3, minSeg: 1, len: 3, nuclei: 40, gap: 7, nr: 1.15 });
micro('k1', { seed: 51, bg: '#100101', line: '#c42418', lines: 44, angle: 0.6, spread: 2.6, lw: 0.9, len: 5, dash: true, nucZoom: nucK1, zx: 93, zy: 180, nr: 3.1, accent: 26, accentColor: '#50b030' });
micro('k2', { seed: 52, bg: '#0c0101', line: '#a82418', lines: 36, angle: -0.6, spread: 0.9, lw: 0.8, len: 6, dash: true, nucZoom: nucK2, zx: 350, zy: 180, nr: 3, accent: 36, accentColor: '#68b030' });
micro('k3', { seed: 53, bg: '#140202', line: '#c82a1a', lines: 48, angle: 0.6, spread: 1.8, lw: 0.95, len: 6, dash: true, nucZoom: nucK3, zx: 93, zy: 440, nr: 2.9 });
micro('k4', { seed: 54, bg: '#150202', line: '#c82a1a', lines: 46, angle: 0.8, spread: 1.2, lw: 0.95, len: 6, dash: true, nucZoom: nucK4, zx: 350, zy: 440, nr: 2.9, accent: 12, accentColor: '#80b030' });
</script>
</body>
</html>
